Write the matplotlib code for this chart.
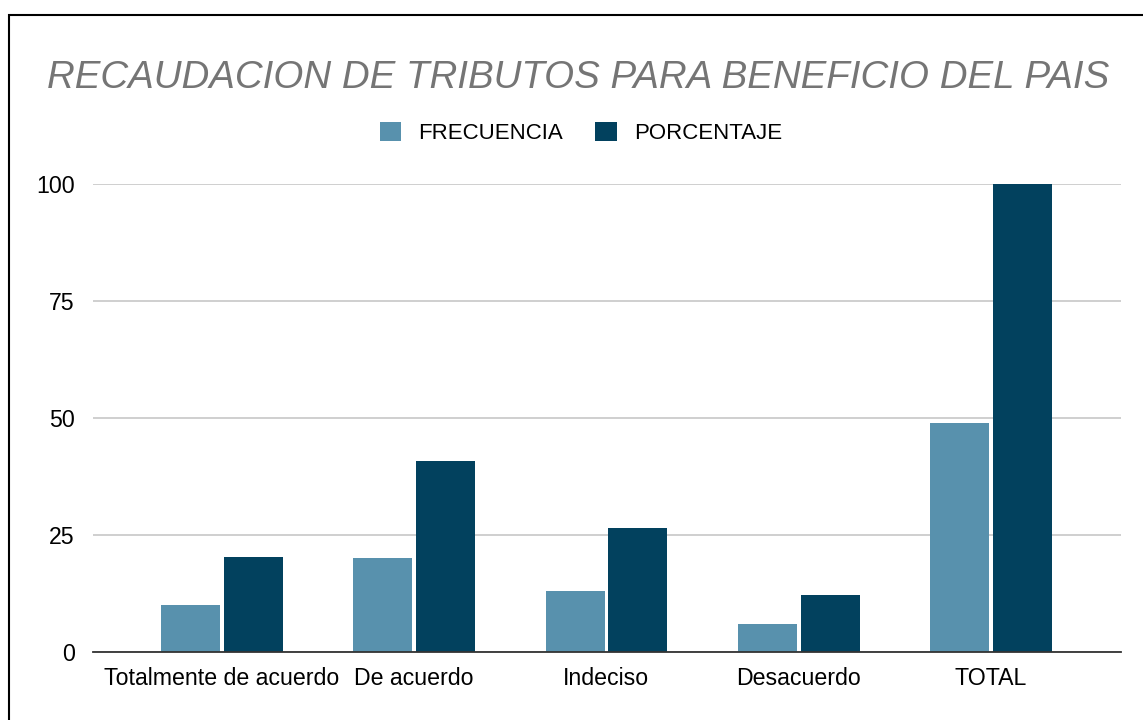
import matplotlib
matplotlib.use("Agg")
import matplotlib.pyplot as plt
from matplotlib.patches import Rectangle, Patch
import numpy as np

categories = ["Totalmente de acuerdo", "De acuerdo", "Indeciso", "Desacuerdo", "TOTAL"]
frecuencia = [10, 20, 13, 6, 49]
porcentaje = [20.4, 40.8, 26.5, 12.2, 100]
yticks = [0, 25, 50, 75, 100]
title = "RECAUDACION DE TRIBUTOS PARA BENEFICIO DEL PAIS"
series_names = ["FRECUENCIA", "PORCENTAJE"]

c_freq = "#5891AD"
c_pct = "#02415E"

plt.rcParams['font.family'] = ['Liberation Sans', 'DejaVu Sans']

W, H = 1143, 720
fig = plt.figure(figsize=(W / 100, H / 100), dpi=100)
ax = fig.add_axes([93 / W, 68 / H, (1121 - 93) / W, (652 - 184) / H])

x = np.arange(len(categories))
bw = 0.307
off = 0.163
ax.bar(x - off, frecuencia, width=bw, color=c_freq, zorder=3)
ax.bar(x + off, porcentaje, width=bw, color=c_pct, zorder=3)

ax.set_xlim(-0.67, len(categories) - 1 + 0.676)
ax.set_ylim(0, 100)
ax.set_yticks(yticks)
ax.set_yticklabels([str(v) for v in yticks], fontsize=16.7)
ax.set_xticks(x)
ax.set_xticklabels(categories, fontsize=16.7)
ax.tick_params(axis='y', length=0, pad=13)
ax.tick_params(axis='x', length=0, pad=11)
ax.yaxis.grid(True, color="#cccccc", linewidth=1.3, zorder=0)
for s in ["top", "right", "left"]:
    ax.spines[s].set_visible(False)
ax.spines["bottom"].set_color("#333333")
ax.spines["bottom"].set_linewidth(1.3)
ax.spines["bottom"].set_zorder(4)

fig.text(578 / W, 1 - 78 / H, title, ha="center", va="center", fontsize=27.7,
         style="italic", color="#757575")

handles = [Patch(facecolor=c_freq, edgecolor="none"), Patch(facecolor=c_pct, edgecolor="none")]
fig.legend(handles, series_names, loc="center", bbox_to_anchor=(581 / W, 1 - 133 / H),
           ncol=2, frameon=False, fontsize=16, handlelength=0.95, handleheight=0.95,
           handletextpad=0.8, columnspacing=1.45)

border = Rectangle((8.5 / W, -0.1), 1.2, (H - 14.5) / H + 0.1, transform=fig.transFigure,
                   fill=False, edgecolor="black", linewidth=1.5, clip_on=False)
fig.patches.append(border)

fig.savefig("out.png", dpi=100)
